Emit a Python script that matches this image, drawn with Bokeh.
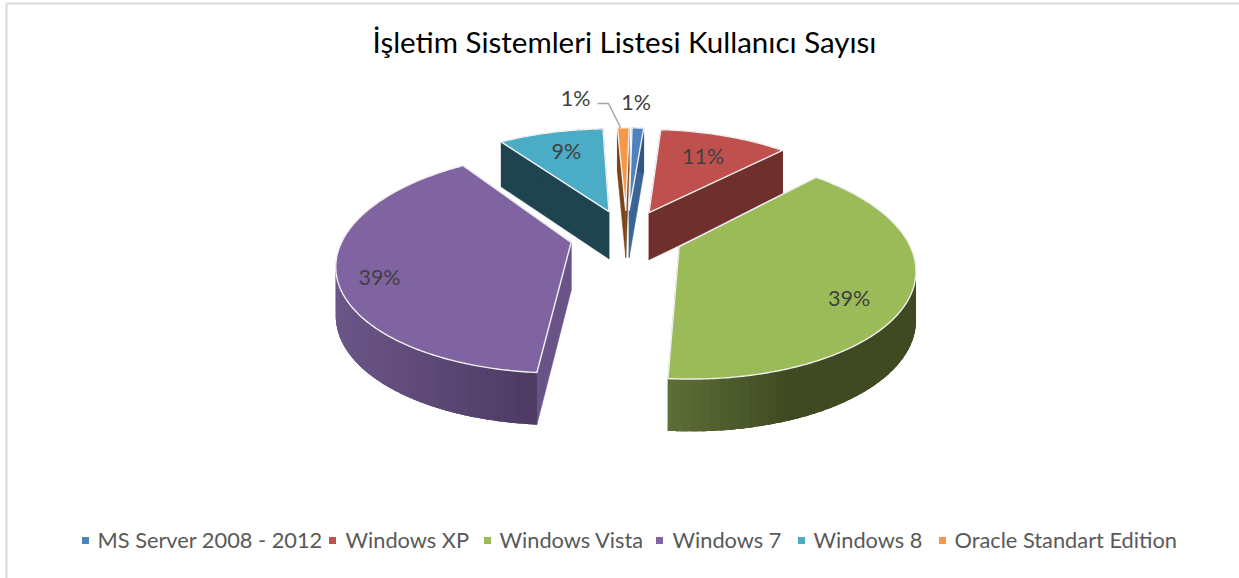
import numpy as np
from bokeh.plotting import figure
from bokeh.embed import file_html
from bokeh.resources import INLINE
from bokeh.core.properties import value

# ---- data
categories = ["MS Server 2008 - 2012", "Windows XP", "Windows Vista", "Windows 7", "Windows 8", "Oracle Standart Edition"]
shares = [1, 11, 39, 39, 9, 1]
labels = ["1%", "11%", "39%", "39%", "9%", "1%"]
title_text = "İşletim Sistemleri Listesi Kullanıcı Sayısı"

# ---- styles
top_colors = ["#4F81BD", "#C0504D", "#9BBB59", "#8064A2", "#4BACC6", "#F79646"]
face_colors = ["#3A6496", "#6F2F2D", "#5B6D33", "#6A5386", "#1E444F", "#7A4518"]
wall_left = ["#3A6496", "#6F2F2D", "#5F7038", "#6C5689", "#1E444F", "#7A4518"]
wall_right = ["#2F527C", "#6F2F2D", "#3F4A22", "#4D3A62", "#1E444F", "#7A4518"]
ramp_gain = [1.0, 1.0, 2.0, 1.0, 1.0, 1.0]

# ---- projection of the exploded pie
CX, CY = 626.0, 235.0
A, B, K = 227.0, 105.0, 0.175
EXPLODE = 0.25
DEPTH = 48.0
ROT = 1.0


def project(X, Z):
    w = 1.0 / (1.0 - K * Z)
    return CX + A * X * w, CY + B * Z * w, w


def point(apex, theta, rho=1.0):
    return apex[0] + rho * np.sin(theta), apex[1] - rho * np.cos(theta)


def drop(w):
    return DEPTH * w ** 0.4


def hex2rgb(h):
    return np.array([int(h[i:i + 2], 16) for i in (1, 3, 5)], float)


def mix(a, b, t):
    c = hex2rgb(a) * (1 - t) + hex2rgb(b) * t
    return "#%02x%02x%02x" % tuple(int(round(v)) for v in c)


p = figure(width=1239, height=578, x_range=(0, 1239), y_range=(578, 0),
           output_backend="svg", toolbar_location=None, min_border=0,
           outline_line_color=None, background_fill_color="white", border_fill_color="white")
p.axis.visible = False
p.grid.visible = False
p.styles = {"position": "absolute", "left": "0px", "top": "0px"}

# frame of the chart area
p.line([6, 6, 1239], [578, 3, 3], line_color="#D9D9D9", line_width=2)

fractions = np.array(shares, float) / sum(shares)
ends = np.cumsum(fractions)
starts = ends - fractions
slices = []
for i in range(len(shares)):
    a0 = 2 * np.pi * starts[i] + np.radians(ROT)
    a1 = 2 * np.pi * ends[i] + np.radians(ROT)
    mid = (a0 + a1) / 2
    apex = (EXPLODE * np.sin(mid), -EXPLODE * np.cos(mid))
    slices.append((i, a0, a1, mid, apex))

# painter's order: far slices first
order = sorted(slices, key=lambda s: s[4][1])
for i, a0, a1, mid, apex in order:
    th = np.linspace(a0, a1, max(8, int(np.degrees(a1 - a0) * 1.5)))
    ax, ay, aw = project(*apex)
    # flat cut faces
    for edge in (a0, a1):
        ex, ey, ew = project(*point(apex, edge))
        p.patch([ax, ex, ex, ax], [ay, ey, ey + drop(ew), ay + drop(aw)],
                fill_color=face_colors[i], line_color=face_colors[i], line_width=0.5)
    # curved outer wall: a ramp of overlapping strips, each covering the seam of the last
    pts = [project(*point(apex, t)) for t in th]
    xs = np.array([q[0] for q in pts])
    n = len(pts)
    base = pts + pts[::-1]
    base_y = [q[1] for q in pts] + [q[1] + drop(q[2]) for q in pts[::-1]]
    p.patch([q[0] for q in base], base_y, fill_color=mix(wall_left[i], wall_right[i], 0.5), line_color=None)
    step = 3
    idx = list(range(0, n - 1, step))
    if xs[0] > xs[-1]:
        idx = idx[::-1]
    for j in idx:
        seg = pts[max(j - 1, 0):min(j + step + 2, n)]
        x_mid = np.mean([q[0] for q in seg])
        t = np.clip((x_mid - xs.min()) / max(xs.max() - xs.min(), 1) * ramp_gain[i], 0, 1)
        c = mix(wall_left[i], wall_right[i], float(t))
        p.patch([q[0] for q in seg] + [q[0] for q in seg[::-1]],
                [q[1] for q in seg] + [q[1] + drop(q[2]) for q in seg[::-1]],
                fill_color=c, line_color=None)
    # top face
    p.patch([ax] + [q[0] for q in pts], [ay] + [q[1] for q in pts],
            fill_color=top_colors[i], line_color="#F0F0F0", line_width=1.4, line_join="round")

# percentage labels
rhos = [1.32, 0.66, 0.72, 0.76, 0.72, 1.32]
nudges = [(-4, -4), (2, -4), (7, 17), (-15, 12), (1, -1), (-47, -8)]
for (i, a0, a1, mid, apex) in slices:
    lx, ly, _ = project(*point(apex, mid, rhos[i]))
    p.text([lx + nudges[i][0]], [ly + nudges[i][1]], text=[labels[i]], text_font=value("Lato"),
           text_font_size="21.5px", text_color="#404040", text_align="center", text_baseline="middle")

# leader of the orange label
p.line([597, 608, 620], [103, 103, 127], line_color="#A6A6A6", line_width=1.5)

# title
p.text([624], [41], text=[title_text], text_font=value("Lato"), text_font_size="29.5px",
       text_color="#000000", text_align="center", text_baseline="middle")

# legend
legend_sq = [85, 332, 487, 659, 801, 942]
legend_tx = [97, 345, 499, 672, 813, 954]
for i, c in enumerate(categories):
    p.rect([legend_sq[i]], [540], width=7, height=7, fill_color=top_colors[i], line_color=None)
    p.text([legend_tx[i]], [539], text=[c], text_font=value("Lato"), text_font_size="21.8px",
           text_color="#595959", text_align="left", text_baseline="middle")

open("out.html", "w").write(file_html(p, INLINE))
